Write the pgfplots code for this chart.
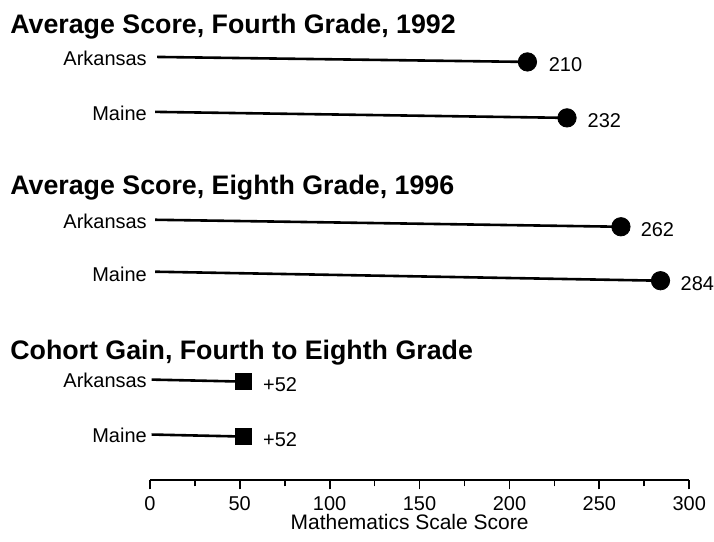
\documentclass[border=0pt]{standalone}
\usepackage{pgfplots}
\pgfplotsset{compat=1.18}
\usepackage{fontspec}
\setmainfont{Liberation Sans}
\begin{document}
\begin{tikzpicture}
\begin{axis}[
  scale only axis,
  width=270pt, height=240.5pt,
  xmin=0, xmax=300, ymin=-481, ymax=0,
  axis x line*=bottom, axis y line=none,
  axis line style={line width=1pt},
  xtick={0,50,...,300},
  minor xtick={25,75,...,275},
  tick align=outside,
  major tick length=4.5pt, minor tick length=3pt,
  tick style={line width=0.9pt, black},
  ticklabel style={font=\fontsize{10}{12}\selectfont},
  /pgf/number format/assume math mode=true,
  xlabel={Mathematics Scale Score},
  xlabel style={font=\fontsize{10.5}{12}\selectfont, yshift=5pt, xshift=-5pt},
  clip=false,
]
\path (axis cs:-83.33,0) rectangle (axis cs:313.33,-542);
% titles
\node[anchor=west, inner sep=0pt, font=\fontsize{13.4}{15}\selectfont\bfseries] at (axis cs:-77.8,-27) {Average Score, Fourth Grade, 1992};
\node[anchor=west, inner sep=0pt, font=\fontsize{13.4}{15}\selectfont\bfseries] at (axis cs:-77.8,-188) {Average Score, Eighth Grade, 1996};
\node[anchor=west, inner sep=0pt, font=\fontsize{13.4}{15}\selectfont\bfseries] at (axis cs:-77.8,-353) {Cohort Gain, Fourth to Eighth Grade};
% row labels
\node[anchor=east, font=\fontsize{10}{12}\selectfont, inner sep=0pt] at (axis cs:-1.5,-58) {Arkansas};
\node[anchor=east, font=\fontsize{10}{12}\selectfont, inner sep=0pt] at (axis cs:-1.5,-222) {Arkansas};
\node[anchor=east, font=\fontsize{10}{12}\selectfont, inner sep=0pt] at (axis cs:-1.5,-381) {Arkansas};
\node[anchor=east, font=\fontsize{10}{12}\selectfont, inner sep=0pt] at (axis cs:-1.5,-113) {Maine};
\node[anchor=east, font=\fontsize{10}{12}\selectfont, inner sep=0pt] at (axis cs:-1.5,-275) {Maine};
\node[anchor=east, font=\fontsize{10}{12}\selectfont, inner sep=0pt] at (axis cs:-1.5,-436) {Maine};
% lines
\addplot[black, line width=1.3pt] coordinates {(4,-57) (210,-62)};
\addplot[black, line width=1.3pt] coordinates {(3,-112) (232,-118)};
\addplot[black, line width=1.3pt] coordinates {(3,-220) (262,-227)};
\addplot[black, line width=1.3pt] coordinates {(3,-272) (284,-281)};
\addplot[black, line width=1.3pt] coordinates {(1,-380) (52,-382)};
\addplot[black, line width=1.3pt] coordinates {(1,-435) (52,-437)};
% dots
\addplot[only marks, mark=*, mark size=4.6pt, black] coordinates {(210,-62) (232,-118) (262,-227) (284,-281)};
\addplot[only marks, mark=square*, mark size=4pt, black] coordinates {(52,-382) (52,-437)};
% value labels
\node[anchor=west, font=\fontsize{10}{12}\selectfont, inner sep=0pt] at (axis cs:221.7,-65) {210};
\node[anchor=west, font=\fontsize{10}{12}\selectfont, inner sep=0pt] at (axis cs:243.3,-121) {232};
\node[anchor=west, font=\fontsize{10}{12}\selectfont, inner sep=0pt] at (axis cs:272.8,-230) {262};
\node[anchor=west, font=\fontsize{10}{12}\selectfont, inner sep=0pt] at (axis cs:295,-284) {284};
\node[anchor=west, font=\fontsize{10}{12}\selectfont, inner sep=0pt] at (axis cs:62.8,-385) {+52};
\node[anchor=west, font=\fontsize{10}{12}\selectfont, inner sep=0pt] at (axis cs:62.8,-440) {+52};
\end{axis}
\end{tikzpicture}
\end{document}
